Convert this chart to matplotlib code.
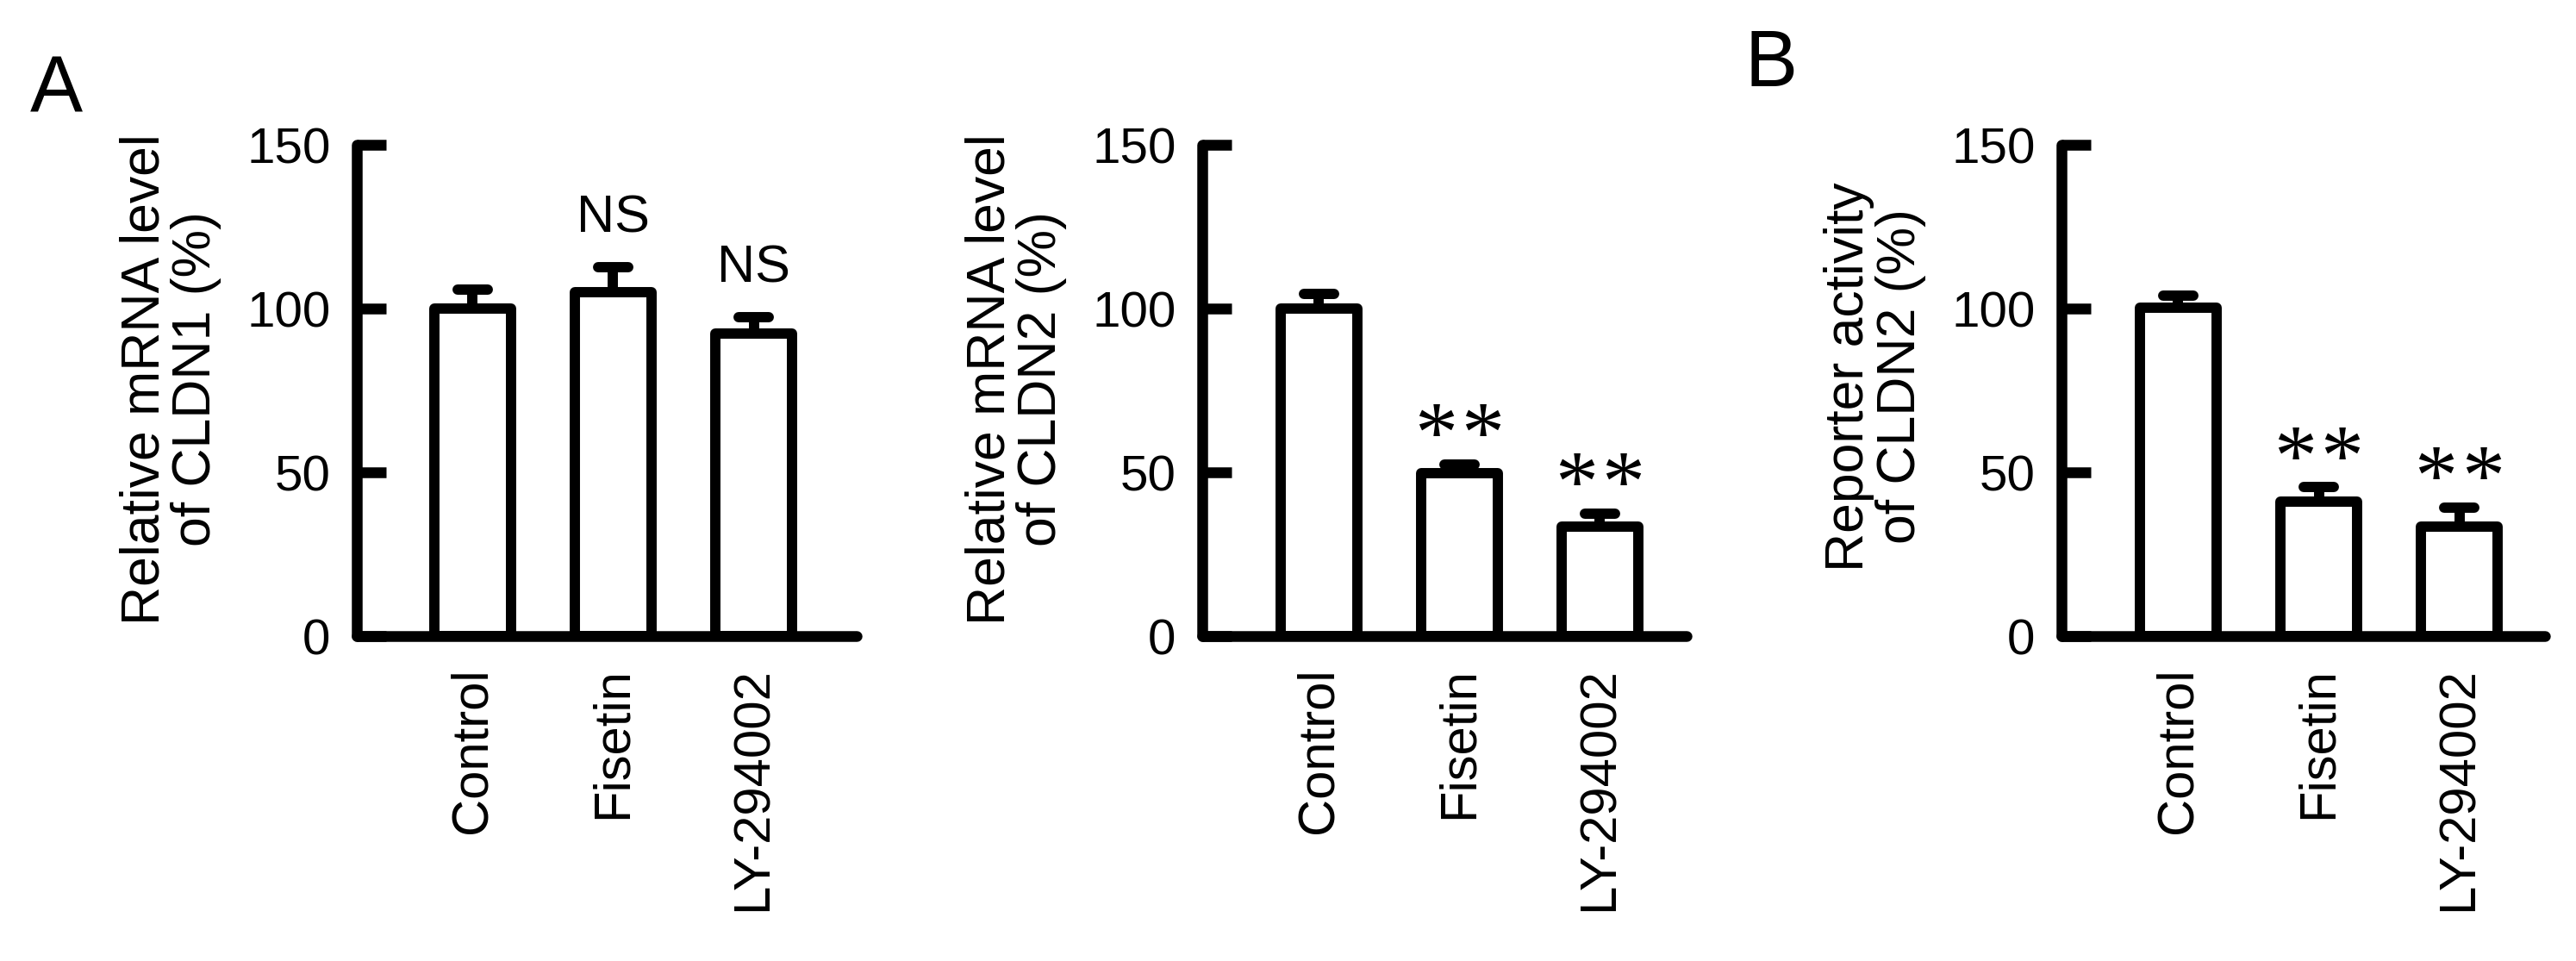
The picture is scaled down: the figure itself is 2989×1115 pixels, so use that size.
import matplotlib
matplotlib.use('Agg')
import matplotlib.pyplot as plt
import numpy as np

plt.rcParams['font.family'] = ['Liberation Sans', 'DejaVu Sans']

categories = ['Control', 'Fisetin', 'LY-294002']
yticks = [0, 50, 100, 150]

cldn1_mrna = [100.0, 105.0, 92.3]
cldn1_err = [5.8, 7.6, 5.0]
cldn1_sig = ['', 'NS', 'NS']

cldn2_mrna = [100.0, 49.8, 33.4]
cldn2_err = [4.4, 2.7, 4.1]
cldn2_sig = ['', '**', '**']

cldn2_rep = [100.3, 41.0, 33.4]
cldn2_rep_err = [3.6, 4.4, 5.9]
cldn2_rep_sig = ['', '**', '**']

ylabels = ['Relative mRNA level\nof CLDN1 (%)',
           'Relative mRNA level\nof CLDN2 (%)',
           'Reporter activity\nof CLDN2 (%)']

W, H = 2989, 1115
fig = plt.figure(figsize=(W / 100, H / 100), dpi=100)

# layout (pixels in the 2989x1115 canvas)
ax_left_px = [414, 1395, 2392]
ax_right_px = [994, 1957, 2953]
xlims = [(-0.825, 2.733), (-0.831, 2.617), (-0.831, 2.61)]
y0_px, y150_px = 738, 168
label_y = [0.523, 0.523, 0.528]

panels = [(cldn1_mrna, cldn1_err, cldn1_sig),
          (cldn2_mrna, cldn2_err, cldn2_sig),
          (cldn2_rep, cldn2_rep_err, cldn2_rep_sig)]

LW = 8.6
FS = 42
for i, (vals, errs, sigs) in enumerate(panels):
    wpx = ax_right_px[i] - ax_left_px[i]
    ax = fig.add_axes([ax_left_px[i] / W, 1 - y0_px / H, wpx / W, (y0_px - y150_px) / H])
    x = np.arange(len(categories))
    vals = np.array(vals)
    errs = np.array(errs)
    ax.vlines(x, vals, vals + errs, color='black', lw=LW, zorder=1)
    caps = ax.hlines(vals + errs, x - 0.107, x + 0.107, color='black', lw=LW, zorder=1)
    caps.set_capstyle('round')
    bars = ax.bar(x, vals, width=0.55, color='white', edgecolor='black', linewidth=LW, zorder=2)
    for b in bars:
        b.set_joinstyle('round')
    for xi, vv, e, s in zip(x, vals, errs, sigs):
        if s == 'NS':
            ax.annotate(s, xy=(xi, vv + e), xytext=(0, 29), textcoords='offset points',
                        ha='center', va='baseline', fontsize=44)
        elif s:
            for off in (-19.5, 19.5):
                ax.annotate('*', xy=(xi, vv + e), xytext=(off, 3), textcoords='offset points',
                            ha='center', va='baseline', fontsize=72,
                            family='Liberation Serif')
    ax.set_xlim(*xlims[i])
    ax.set_ylim(0, 150)
    ax.set_yticks(yticks)
    ax.set_xticks(x, categories, rotation=90)
    for side in ('top', 'right'):
        ax.spines[side].set_visible(False)
    for side in ('left', 'bottom'):
        ax.spines[side].set_linewidth(9)
        ax.spines[side].set_capstyle('round')
        ax.spines[side].set_zorder(3)
    ax.tick_params(axis='y', direction='in', length=24.5, width=9, pad=22, labelsize=FS)
    ax.tick_params(axis='x', length=0, pad=26, labelsize=43)
    ax.set_ylabel(ylabels[i], fontsize=45, linespacing=1.02)
    ax.yaxis.set_label_coords(-157 / wpx, label_y[i])
    ax.patch.set_visible(False)

fig.text(35 / W, 1 - 130 / H, 'A', fontsize=66, ha='left', va='baseline')
fig.text(2025 / W, 1 - 99.5 / H, 'B', fontsize=66, ha='left', va='baseline')

fig.savefig('out.png', dpi=100, facecolor='white')
